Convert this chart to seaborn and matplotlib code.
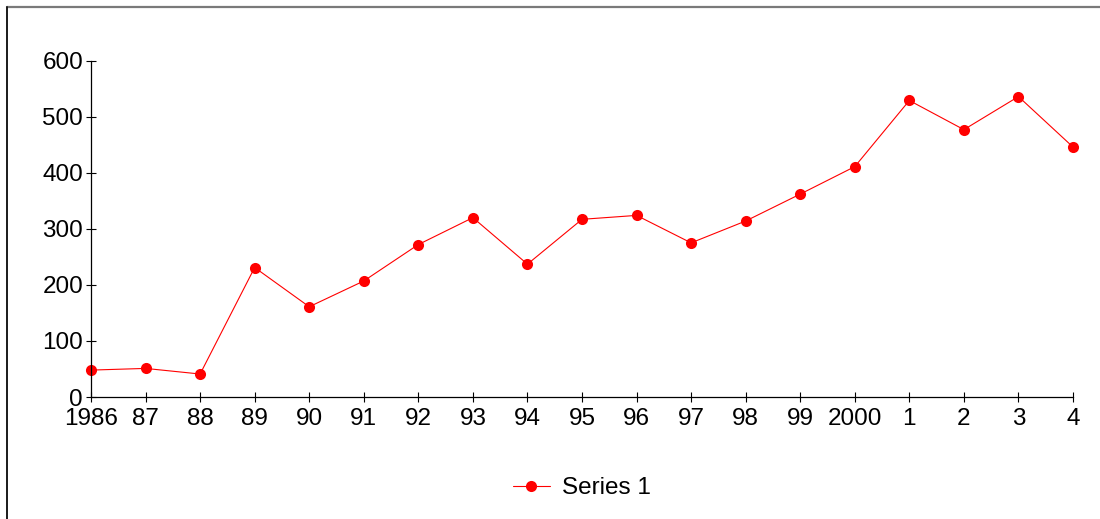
import matplotlib
matplotlib.use("Agg")
import matplotlib.pyplot as plt
from matplotlib.lines import Line2D
import seaborn as sns
import pandas as pd

# Yearly values, 1986-2004
years = list(range(1986, 2005))
year_labels = ["1986", "87", "88", "89", "90", "91", "92", "93", "94", "95",
               "96", "97", "98", "99", "2000", "1", "2", "3", "4"]
series_1 = [48, 51, 41, 231, 161, 207, 272, 320, 237, 317,
            324, 275, 314, 362, 411, 529, 477, 536, 446]
y_ticks = [0, 100, 200, 300, 400, 500, 600]

sns.set_theme(style="white")
plt.rcParams["font.family"] = ["Liberation Sans", "DejaVu Sans"]
plt.rcParams["text.color"] = "black"

df = pd.DataFrame({"year": years, "value": series_1})

fig = plt.figure(figsize=(11, 5.19), dpi=100)
ax = fig.add_axes([91 / 1100, 1 - 397 / 519, (1073 - 91) / 1100, (397 - 60.7) / 519])

sns.lineplot(data=df, x="year", y="value", ax=ax, color="#ff0000",
             linewidth=0.8, marker="o", markersize=8, markeredgewidth=0,
             label="Series 1", clip_on=False)

ax.set_xlim(1986, 2004)
ax.set_ylim(0, 600)
ax.set_xticks(years)
ax.set_xticklabels(year_labels)
ax.set_yticks(y_ticks)
ax.set_xlabel("")
ax.set_ylabel("")

for side in ("top", "right"):
    ax.spines[side].set_visible(False)
for side in ("left", "bottom"):
    ax.spines[side].set_color("black")
    ax.spines[side].set_linewidth(0.9)

ax.tick_params(axis="both", which="major", direction="inout", length=7.5,
               width=0.8, color="black", labelsize=17.5, labelcolor="black",
               left=True, bottom=True)
ax.tick_params(axis="y", pad=2)
ax.tick_params(axis="x", pad=4.5)

leg = ax.legend(loc="center", bbox_to_anchor=(0.5, -0.272), frameon=False,
                fontsize=17.5, handlelength=1.5, handletextpad=0.5)
for t in leg.get_texts():
    t.set_color("black")

# Outer frame lines (top and left edges)
fig.add_artist(Line2D([7.3 / 1100, 1.0], [1 - 7.3 / 519, 1 - 7.3 / 519],
                      transform=fig.transFigure, color="#7a7a7a", linewidth=1.6))
fig.add_artist(Line2D([7.3 / 1100, 7.3 / 1100], [0.0, 1 - 7.3 / 519],
                      transform=fig.transFigure, color="#1a1a1a", linewidth=1.4))

fig.savefig("out.png", dpi=100, facecolor="white")
